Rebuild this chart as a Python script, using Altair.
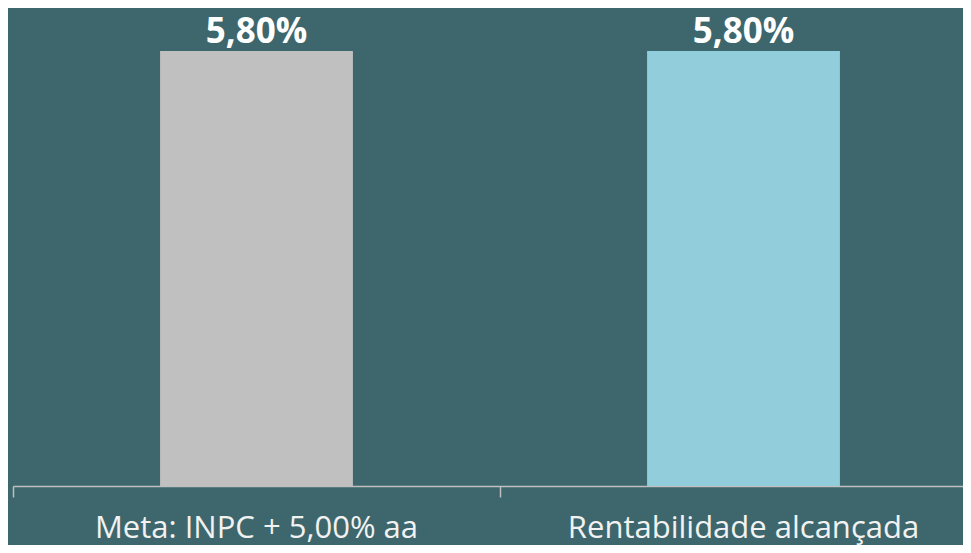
import altair as alt
import pandas as pd

categories = ["Meta: INPC + 5,00% aa", "Rentabilidade alcançada"]
values = [5.80, 5.80]
labels = ["5,80%", "5,80%"]
colors = ["#c0c0c0", "#92cddc"]

df = pd.DataFrame({"cat": categories, "val": values, "lab": labels, "color": colors})

xscale = alt.Scale(paddingInner=0, paddingOuter=0, range=[0, 974])
x = alt.X("cat:N", sort=categories, title=None, scale=xscale,
          axis=alt.Axis(labelAngle=0, labelFont="Open Sans", labelFontSize=31,
                        labelColor="#f2f2f2", labelBaseline="alphabetic",
                        labelPadding=40, bandPosition=0, tickSize=11,
                        tickColor="#bfbfbf", tickWidth=1.5,
                        domainColor="#bfbfbf", domainWidth=1.5, grid=False,
                        labelOverlap=False, labelBound=False, labelLimit=0))
y = alt.Y("val:Q", scale=alt.Scale(domain=[0, 5.8], nice=False, zero=True), axis=None)

bars = alt.Chart(df).mark_bar(width=alt.RelativeBandSize(0.396)).encode(
    x=x, y=y, color=alt.Color("color:N", scale=None)
)
text = alt.Chart(df).mark_text(
    baseline="alphabetic", dy=-8, font="Open Sans", fontWeight="bold",
    fontSize=35, color="#ffffff"
).encode(x=alt.X("cat:N", sort=categories, scale=xscale), y="val:Q", text="lab:N")

chart = alt.layer(bars, text).properties(
    width=950, height=435,
    background="#3d676c",
    padding={"left": 5, "top": 43, "right": 0, "bottom": 59},
    autosize=alt.AutoSizeParams(type="none"),
).configure_view(stroke=None)

chart.save("out.html", embed_options={"renderer": "svg", "actions": False})
